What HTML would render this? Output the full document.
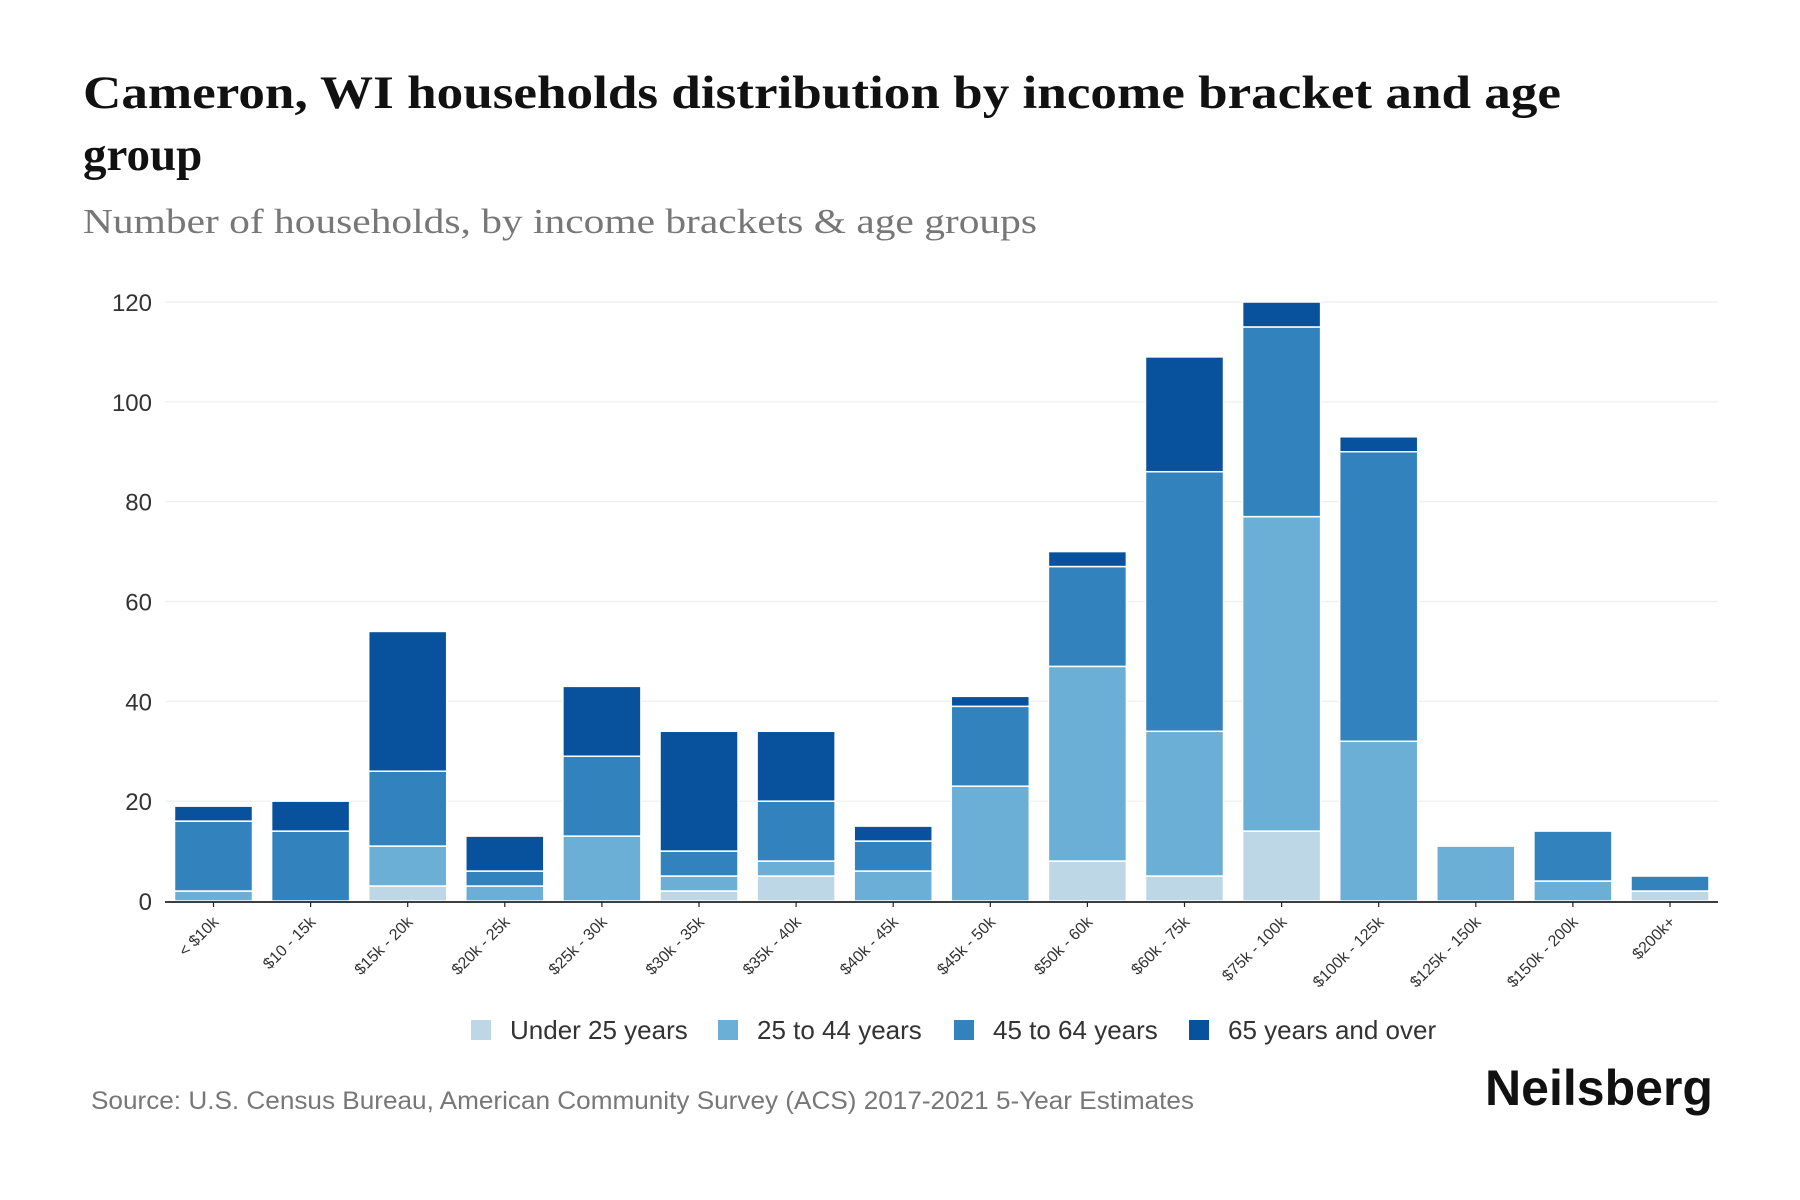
<!DOCTYPE html>
<html><head><meta charset="utf-8"><style>
html,body{margin:0;padding:0;background:#fff;}
svg{display:block;}
</style></head><body>
<svg id="chart" width="1800" height="1200" viewBox="0 0 1800 1200" xmlns="http://www.w3.org/2000/svg">
<text x="83" y="108" font-family="Liberation Serif, serif" font-weight="bold" font-size="47" fill="#111" textLength="1478" lengthAdjust="spacingAndGlyphs">Cameron, WI households distribution by income bracket and age</text>
<text x="83" y="170" font-family="Liberation Serif, serif" font-weight="bold" font-size="47" fill="#111">group</text>
<text x="83" y="233" font-family="Liberation Serif, serif" font-size="35" fill="#777" textLength="954" lengthAdjust="spacingAndGlyphs">Number of households, by income brackets &amp; age groups</text>
<g id="grid"></g>
<g id="bars"></g>
<g id="xaxis"></g>
<g id="legend"></g>
<text x="91" y="1109" font-family="Liberation Sans, sans-serif" font-size="25" fill="#777" textLength="1103" lengthAdjust="spacingAndGlyphs">Source: U.S. Census Bureau, American Community Survey (ACS) 2017-2021 5-Year Estimates</text>
<text x="1713" y="1105" text-anchor="end" font-family="Liberation Sans, sans-serif" font-weight="bold" font-size="50" fill="#111" textLength="228" lengthAdjust="spacingAndGlyphs">Neilsberg</text>
</svg>
<script>
const categories = ["< $10k","$10 - 15k","$15k - 20k","$20k - 25k","$25k - 30k","$30k - 35k","$35k - 40k","$40k - 45k","$45k - 50k","$50k - 60k","$60k - 75k","$75k - 100k","$100k - 125k","$125k - 150k","$150k - 200k","$200k+"];
const under25 = [0,0,3,0,0,2,5,0,0,8,5,14,0,0,0,2];
const age25to44 = [2,0,8,3,13,3,3,6,23,39,29,63,32,11,4,0];
const age45to64 = [14,14,15,3,16,5,12,6,16,20,52,38,58,0,10,3];
const age65plus = [3,6,28,7,14,24,14,3,2,3,23,5,3,0,0,0];
const seriesNames = ["Under 25 years","25 to 44 years","45 to 64 years","65 years and over"];
const yTicks = [0,20,40,60,80,100,120];

const NS = "http://www.w3.org/2000/svg";
const colors = ["#bdd7e7","#6baed6","#3182bd","#08519c"];
const series = [under25, age25to44, age45to64, age65plus];
const y0 = 901, yTop = 302, yMax = 120;
const xStart = 213.5, step = 97.1, barW = 78;
function yScale(v){ return y0 - (v / yMax) * (y0 - yTop); }
function xScale(i){ return xStart + i * step; }
function mk(tag, attrs, parent){ const e = document.createElementNS(NS, tag); for (const k in attrs) e.setAttribute(k, attrs[k]); parent.appendChild(e); return e; }

const grid = document.getElementById('grid');
yTicks.forEach(t => {
  const y = yScale(t);
  if (t > 0) {
    const l = mk('line', {x1:165, x2:1718, y1:y, y2:y, stroke:'#eeeeee', 'stroke-width':1.2}, grid);
    
    
  }
  const tx = mk('text', {x:152, y:y+9, 'text-anchor':'end', 'font-family':'Liberation Sans, sans-serif', 'font-size':24, fill:'#333'}, grid);
  tx.textContent = t;
  
  
});

const bars = document.getElementById('bars');
categories.forEach((c, i) => {
  let cum = 0;
  series.forEach((s, k) => {
    const v = s[i];
    if (v <= 0) return;
    const yA = yScale(cum), yB = yScale(cum + v);
    const r = mk('rect', {x:xScale(i)-barW/2, y:yB, width:barW, height:yA-yB, fill:colors[k], stroke:'#fff', 'stroke-width':1.5}, bars);
    
    
    cum += v;
  });
});

const xa = document.getElementById('xaxis');
const axis = mk('line', {x1:165, x2:1718, y1:y0+1, y2:y0+1, stroke:'#222', 'stroke-width':1.8}, xa);


categories.forEach((c, i) => {
  const x = xScale(i);
  const tk = mk('line', {x1:x, x2:x, y1:y0+1, y2:y0+6, stroke:'#222', 'stroke-width':1.2}, xa);
  
  
  const t = mk('text', {x:x+6, y:y0+22, 'text-anchor':'end', transform:`rotate(-45 ${x+6} ${y0+22})`, 'font-family':'Liberation Sans, sans-serif', 'font-size':16, fill:'#333'}, xa);
  t.textContent = c;
  
  
});

const lg = document.getElementById('legend');
const lx = [471, 718, 954, 1189];
seriesNames.forEach((n, k) => {
  const g = mk('g', {}, lg);
  
  
  mk('rect', {x:lx[k], y:1020, width:20, height:20, fill:colors[k]}, g);
  const t = mk('text', {x:lx[k]+39, y:1039, 'font-family':'Liberation Sans, sans-serif', 'font-size':26, fill:'#333'}, g);
  t.textContent = n;
});
</script>
</body></html>
